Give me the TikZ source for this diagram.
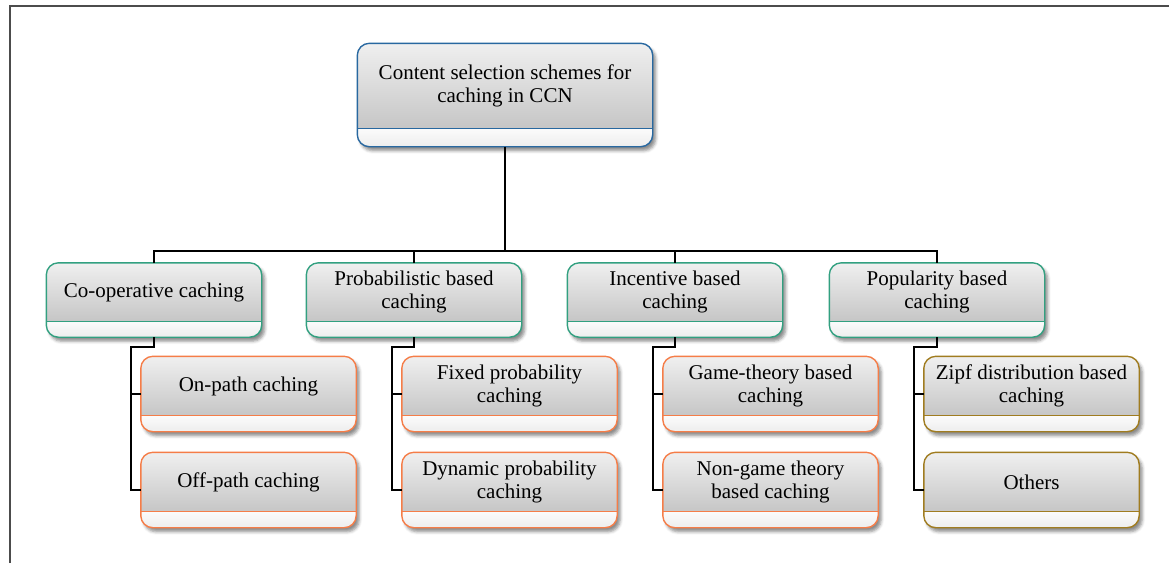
\documentclass[tikz,border=0pt]{standalone}
\usepackage{fontspec}
\setmainfont{Liberation Serif}
\usetikzlibrary{backgrounds,shadows.blur}

\definecolor{rootblue}{RGB}{40,104,160}
\definecolor{groupgreen}{RGB}{50,160,128}
\definecolor{leaforange}{RGB}{245,125,72}
\definecolor{leafgold}{RGB}{160,124,32}

\begin{document}
\begin{tikzpicture}[x=1pt,y=1pt,
    boxtext/.style={rectangle, inner sep=0pt, minimum width=215pt,
      align=center, font=\fontsize{21}{23}\selectfont},
    rootbox/.style={boxtext, minimum width=295pt, minimum height=85pt},
    groupbox/.style={boxtext, minimum height=58pt},
    leafbox/.style={boxtext, minimum height=59pt},
    link/.style={line width=1.6pt, black}]

    \useasboundingbox (0,0) rectangle (1169,-563);
    \draw[line width=1.5pt, black!70] (10,-563) -- (10,-6) -- (1169,-6);

    \node[rootbox] (root) at (505,-86) {Content selection schemes for\\caching in CCN};

    \node[groupbox] (coop) at (154,-292) {Co-operative caching};
    \node[groupbox] (prob) at (414,-292) {Probabilistic based\\caching};
    \node[groupbox] (inc) at (675,-292) {Incentive based\\caching};
    \node[groupbox] (pop) at (937,-292) {Popularity based\\caching};

    \node[leafbox] (onpath) at (248.5,-386) {On-path caching};
    \node[leafbox] (offpath) at (248.5,-482) {Off-path caching};
    \node[leafbox] (fixed) at (509.5,-386) {Fixed probability\\caching};
    \node[leafbox] (dynamic) at (509.5,-482) {Dynamic probability\\caching};
    \node[leafbox] (game) at (770.5,-386) {Game-theory based\\caching};
    \node[leafbox] (nongame) at (770.5,-482) {Non-game theory\\based caching};
    \node[leafbox] (zipf) at (1031.5,-386) {Zipf distribution based\\caching};
    \node[leafbox] (others) at (1031.5,-482) {Others};

    % box frames with the light strip below the text
    \begin{scope}[on background layer]
      \foreach \n/\c/\s in {root/rootblue/18, coop/groupgreen/16, prob/groupgreen/16,
          inc/groupgreen/16, pop/groupgreen/16, onpath/leaforange/16,
          offpath/leaforange/16, fixed/leaforange/16, dynamic/leaforange/16,
          game/leaforange/16, nongame/leaforange/16, zipf/leafgold/16,
          others/leafgold/16}{
        \coordinate (\n-b) at ([yshift=-\s pt]\n.south);
        \fill[white, rounded corners=12pt,
          blur shadow={shadow xshift=3pt, shadow yshift=-4pt,
            shadow blur radius=3pt, shadow opacity=45}]
          (\n.north west) rectangle ([yshift=-\s pt]\n.south east);
        \begin{scope}
          \clip[rounded corners=12pt] (\n.north west) rectangle ([yshift=-\s pt]\n.south east);
          \shade[top color=gray!12, bottom color=gray!45] (\n.north west) rectangle (\n.south east);
          \shade[top color=gray!3, bottom color=gray!14] (\n.south west) rectangle ([yshift=-\s pt]\n.south east);
        \end{scope}
        \draw[\c, line width=1.4pt] (\n.south west) -- (\n.south east);
        \draw[\c, line width=1.4pt, rounded corners=12pt]
          (\n.north west) rectangle ([yshift=-\s pt]\n.south east);
      }
    \end{scope}

    % root to the four groups
    \coordinate (bus) at ([yshift=-104pt]root-b);
    \draw[link] (root-b) -- (bus);
    \foreach \g in {coop,prob,inc,pop}
      \draw[link] (bus) -| (\g.north);

    % groups to their two leaves
    \foreach \g/\a/\b in {coop/onpath/offpath, prob/fixed/dynamic,
        inc/game/nongame, pop/zipf/others}{
      \coordinate (\g-j) at ([shift={(-10pt,-8pt)}]\a.west);
      \draw[link] (\g-b) -- ++(0,-10) -| (\g-j) -- ([yshift=-8pt]\a.west);
      \draw[link] (\g-j) |- ([yshift=-8pt]\b.west);
    }

\end{tikzpicture}
\end{document}
